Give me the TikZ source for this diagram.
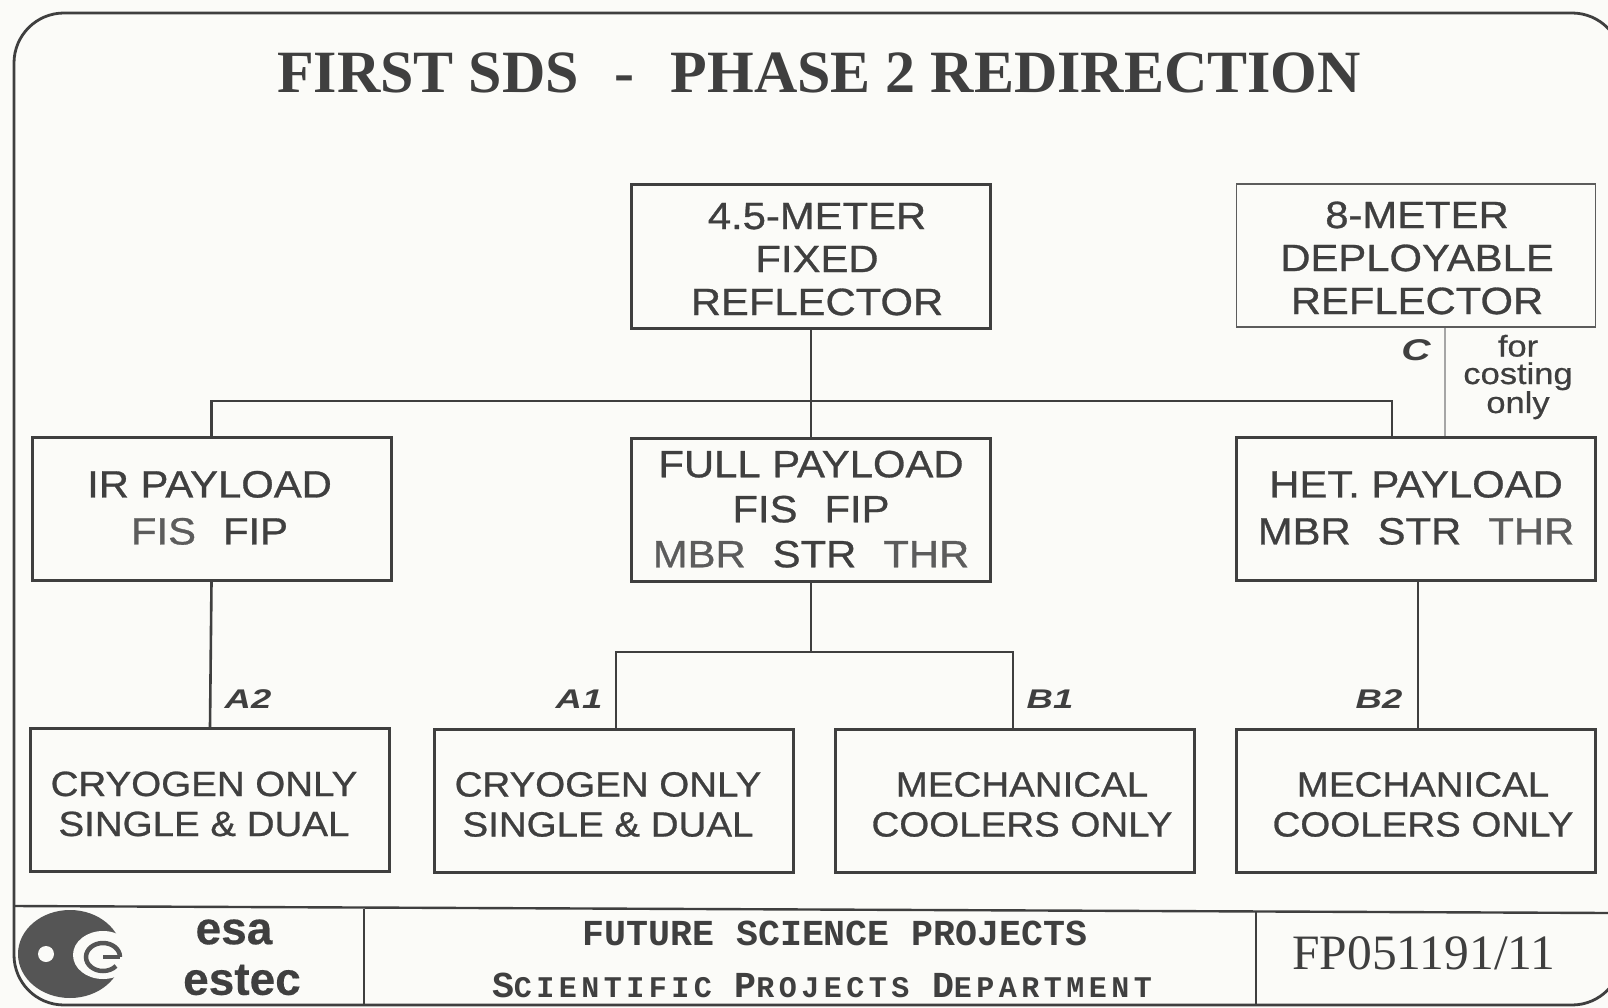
\documentclass[tikz,border=0pt]{standalone}
\usepackage{fontspec}
\setmainfont{Liberation Sans}
\newfontfamily\boxfont[FakeStretch=1.1,FakeBold=0.8]{Liberation Sans}
\newfontfamily\costfont[FakeStretch=1.15,FakeBold=0.6]{Liberation Sans}
\newfontfamily\logofont[FakeBold=0.35]{Liberation Sans}
\newfontfamily\casefont[FakeStretch=1.35]{Liberation Sans}
\newfontfamily\titlefont{Liberation Serif}
\newfontfamily\monobig{Liberation Mono}
\newfontfamily\monosm[LetterSpace=15]{Liberation Mono}
\definecolor{ink}{HTML}{3F3F3F}
\definecolor{soft}{HTML}{5C5C5C}
\definecolor{paper}{HTML}{FBFBF8}
\definecolor{logoink}{HTML}{555555}
\newcommand{\shiftedtext}[4]{\kern#1pt\begin{tabular}{@{}c@{}}\rule{0pt}{#3pt}#4\end{tabular}\kern#2pt}
\newcommand{\soft}[1]{\textcolor{soft}{#1}}
\newcommand{\wgap}{\hspace{27pt}}
\tikzset{
  boxA/.style={draw=ink,line width=3pt,rectangle,inner sep=0pt,text=ink,minimum width=359pt,minimum height=143pt,font=\boxfont\fontsize{38}{43}\selectfont},
  boxPay/.style={boxA,font=\boxfont\fontsize{38}{47}\selectfont},
  boxFull/.style={boxA,font=\boxfont\fontsize{38}{45}\selectfont},
  boxB/.style={boxA,font=\boxfont\fontsize{35}{40}\selectfont},
  boxLight/.style={boxA,draw=soft,line width=1.8pt},
  conn/.style={draw=ink,line width=2.6pt},
  connLight/.style={draw=gray!70,line width=2pt},
  rule/.style={draw=ink,line width=2.4pt},
  case/.style={text=ink,font=\casefont\fontsize{27}{27}\selectfont\bfseries\itshape,inner sep=0pt},
  plain/.style={text=ink,inner sep=0pt}
}
\begin{document}
\begin{tikzpicture}[x=1pt,y=-1pt]
\useasboundingbox (0,0) rectangle (1608,1008);
\fill[paper] (0,0) rectangle (1608,1008);
% frame, running off the right edge of the sheet
\coordinate (frameA) at (14,13);
\coordinate (frameB) at (1622,1005);
\begin{scope}
\clip (0,0) rectangle (1608,1008);
\draw[rule,line width=2.8pt,rounded corners=50pt] (frameA) rectangle (frameB);
\end{scope}
\coordinate (footL) at (14,906);
\coordinate (footR) at (1608,913);
\draw[rule] (footL) -- (footR);
\coordinate (divAt) at (364,909);
\coordinate (divBt) at (1256,912);
\draw[rule,line width=1.8pt] (divAt) -- (divAt |- frameB);
\draw[rule,line width=1.8pt] (divBt) -- (divBt |- frameB);
% title
\node[plain,font=\titlefont\fontsize{60}{60}\selectfont\bfseries] (title) at (819,73)
  {FIRST SDS\hspace{36pt}-\hspace{36pt}PHASE 2 REDIRECTION};
% boxes
\node[boxA] (fixed) at (811,256.5) {\shiftedtext{12}{0}{44}{4.5-METER\\FIXED\\REFLECTOR}};
\node[boxLight] (deploy) at (1416,255.5) {\shiftedtext{2}{0}{44}{8-METER\\DEPLOYABLE\\REFLECTOR}};
\node[boxA,boxPay] (ir) at (211.5,509) {\shiftedtext{0}{4}{38}{IR PAYLOAD\\\soft{FIS}\wgap FIP}};
\node[boxA,boxFull] (full) at (811,509.5) {\shiftedtext{0}{0}{39}{FULL PAYLOAD\\FIS\wgap FIP\\\soft{MBR}\wgap STR\wgap\soft{THR}}};
\node[boxA,boxPay] (het) at (1416,509) {\shiftedtext{0}{0}{38}{HET. PAYLOAD\\MBR\wgap STR\wgap\soft{THR}}};
\node[boxB] (cryoA) at (210,800) {\shiftedtext{0}{12}{44}{CRYOGEN ONLY\\SINGLE \& DUAL}};
\node[boxB] (cryoB) at (613.5,800.5) {\shiftedtext{0}{11}{44}{CRYOGEN ONLY\\SINGLE \& DUAL}};
\node[boxB] (mechA) at (1014.5,800.5) {\shiftedtext{15}{0}{44}{MECHANICAL\\COOLERS ONLY}};
\node[boxB] (mechB) at (1416,800.5) {\shiftedtext{14}{0}{44}{MECHANICAL\\COOLERS ONLY}};
% connectors
\coordinate (bus) at (810,401);
\coordinate (hetDrop) at (1392,401);
\coordinate (split) at (811,652);
\coordinate (costDrop) at (1445,328);
\coordinate (dropA) at (616,652);
\coordinate (dropB) at (1013,652);
\coordinate (dropC) at (1418,581);
\draw[conn] (fixed.south) -- (full.north);
\draw[conn] (ir.north) -- (ir.north |- bus) -- (hetDrop) -- (hetDrop |- het.north);
\draw[connLight] (costDrop) -- (costDrop |- het.north);
\draw[conn] (ir.south) -- (cryoA.north);
\draw[conn] (full.south) -- (split);
\draw[conn] (dropA |- cryoB.north) -- (dropA) -- (dropB) -- (dropB |- mechA.north);
\draw[conn] (dropC) -- (dropC |- mechB.north);
% case labels
\node[case,font=\casefont\fontsize{30}{30}\selectfont\bfseries\itshape] (lblC) at (1416,350) {C};
\node[case] (lblAtwo) at (248,699) {A2};
\node[case] (lblAone) at (579,699) {A1};
\node[case] (lblBone) at (1050,699) {B1};
\node[case] (lblBtwo) at (1379,699) {B2};
\node[plain,align=center,font=\costfont\fontsize{30}{27.5}\selectfont] (cost) at (1518,377) {for\\costing\\only};
% logo
\fill[logoink] (70,954) ellipse [x radius=52pt,y radius=44pt];
\fill[paper] (103,955) ellipse [x radius=30pt,y radius=24pt];
\fill[paper] (46,954) circle (8pt);
\draw[logoink,line width=4.5pt] (120,957) arc [start angle=0,end angle=320,x radius=17pt,y radius=14pt];
\draw[logoink,line width=4.5pt] (103,957) -- (120,957);
% footer text
\node[plain,font=\logofont\fontsize{46}{46}\selectfont\bfseries] (esa) at (234,932) {esa};
\node[plain,font=\logofont\fontsize{46}{46}\selectfont\bfseries] (estec) at (242,980) {estec};
\node[plain,font=\monobig\fontsize{36.6}{36.6}\selectfont\bfseries] (project) at (835,933) {FUTURE SCIENCE PROJECTS};
\node[plain,font=\bfseries] (dept) at (822,985)
  {\monobig\fontsize{36.6}{36.6}\selectfont\bfseries S\monosm\fontsize{30}{30}\selectfont\bfseries CIENTIFIC {\monobig\fontsize{36.6}{36.6}\selectfont\bfseries P}ROJECTS {\monobig\fontsize{36.6}{36.6}\selectfont\bfseries D}EPARTMENT};
\node[plain,font=\titlefont\fontsize{49.5}{49.5}\selectfont] (code) at (1424,953) {FP051191/11};
\end{tikzpicture}
\end{document}
